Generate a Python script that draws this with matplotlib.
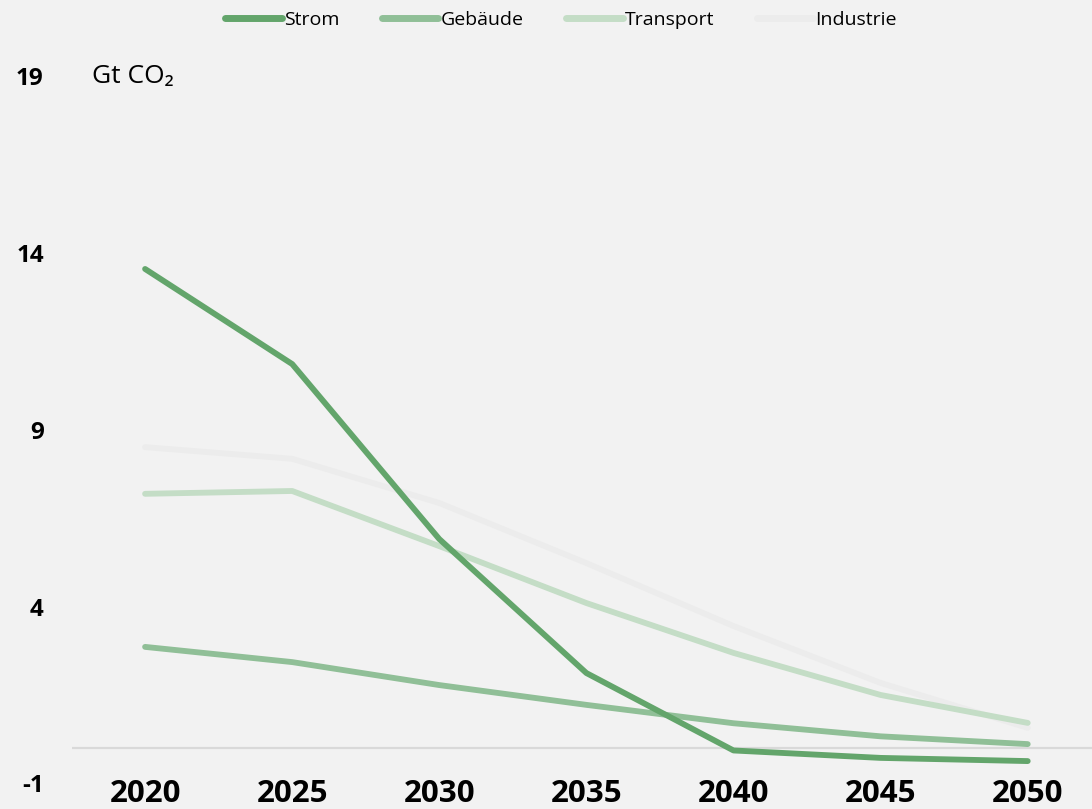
import numpy as np
import matplotlib
matplotlib.use('Agg')
import matplotlib.pyplot as plt

plt.rcParams['font.family'] = ['Open Sans', 'DejaVu Sans']

# Emissionen je Sektor, Gt CO2
years = ['2020', '2025', '2030', '2035', '2040', '2045', '2050']
strom = [13.55, 10.86, 5.91, 2.12, -0.07, -0.28, -0.37]
gebaeude = [2.86, 2.43, 1.78, 1.22, 0.70, 0.33, 0.11]
transport = [7.19, 7.27, 5.71, 4.10, 2.69, 1.50, 0.71]
industrie = [8.51, 8.18, 6.93, 5.23, 3.45, 1.84, 0.57]
yticks = [-1, 4, 9, 14, 19]

series = [('Strom', strom, '#63a56b'),
          ('Gebäude', gebaeude, '#90bf97'),
          ('Transport', transport, '#c4ddc6'),
          ('Industrie', industrie, '#ececec')]

bg = '#f2f2f2'
fig = plt.figure(figsize=(10.92, 8.09), dpi=100, facecolor=bg)
ax = fig.add_axes([0.0655, 0.0317, 0.943, 0.874])
ax.set_facecolor(bg)

x = np.arange(len(years))
ax.axhline(0, color='#d9d9d9', lw=1.6, zorder=1)
for name, vals, col in reversed(series):
    ax.plot(x, vals, color=col, lw=4.2, solid_capstyle='round',
            solid_joinstyle='round', label=name, zorder=2)

ax.set_xlim(-0.5, len(years) - 0.5)
ax.set_ylim(-1, 19)
ax.set_xticks(x)
ax.set_xticklabels(years, fontsize=22.5, fontweight='bold')
ax.set_yticks(yticks)
ax.set_yticklabels([str(t) for t in yticks], fontsize=17.5, fontweight='bold')
ax.tick_params(axis='x', length=0, pad=-3)
ax.tick_params(axis='y', length=0, pad=20)
for s in ax.spines.values():
    s.set_visible(False)

fig.text(92 / 1092, 1 - 77 / 809, 'Gt CO₂', fontsize=19, va='center', ha='left')

handles, labels = ax.get_legend_handles_labels()
leg = fig.legend(handles[::-1], labels[::-1], loc='center', ncol=4,
                 bbox_to_anchor=(561 / 1092, 1 - 20 / 809), frameon=False,
                 fontsize=14, handlelength=2.9, handletextpad=0.1,
                 columnspacing=2.2)
for h in leg.get_lines():
    h.set_linewidth(5)

fig.savefig('out.png', dpi=100, facecolor=bg)
